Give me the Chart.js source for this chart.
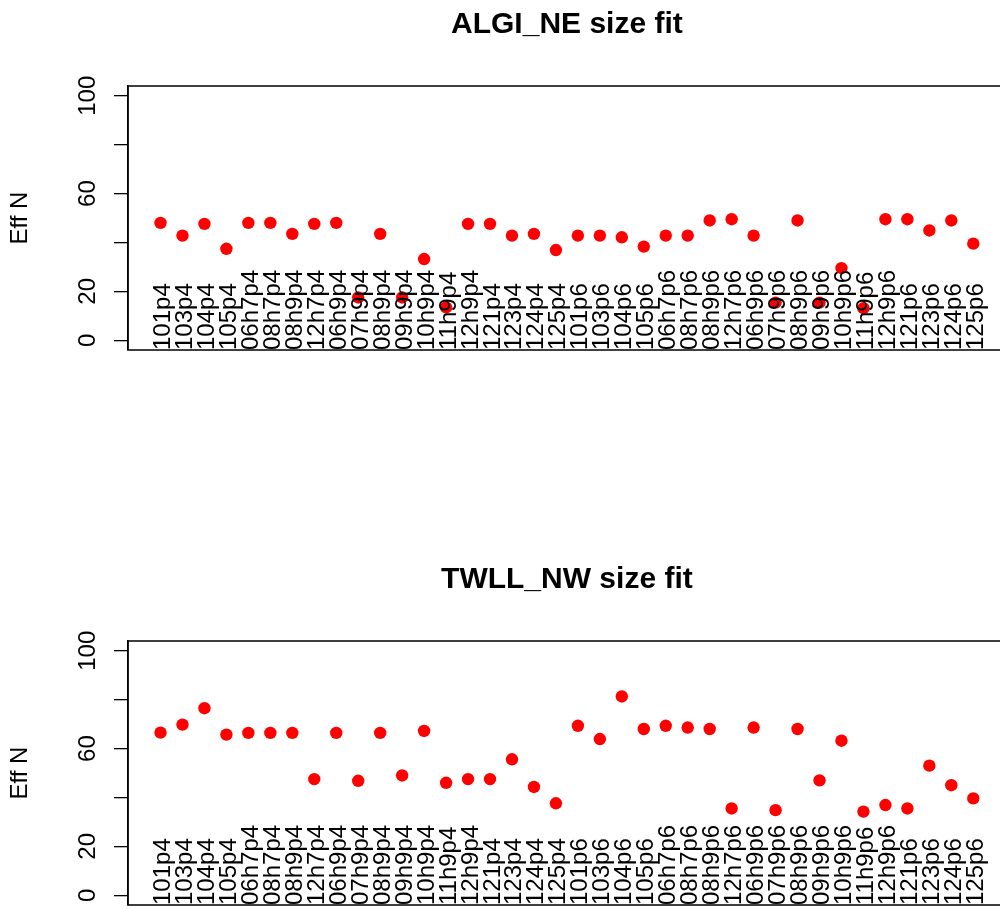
<!DOCTYPE html>
<html lang="en">

<head>
    <meta charset="UTF-8">
    <title>Eff N size fit</title>
    <script src="https://cdn.jsdelivr.net/npm/chart.js"></script>
    <style>
        html, body {
            margin: 0;
            padding: 0;
            width: 1000px;
            height: 909px;
            overflow: hidden;
            background: #fff;
        }

        canvas {
            position: absolute;
            left: 0;
        }

        #painelAlgi { top: 0; }
        #painelTwll { top: 555px; }
    </style>
</head>

<body>
    <canvas id="painelAlgi" width="1012" height="455"></canvas>
    <canvas id="painelTwll" width="1012" height="455"></canvas>

    <script>
        // sample names, same order in both panels
        const amostras = [
            '101p4', '103p4', '104p4', '105p4', '06h7p4', '08h7p4', '08h9p4', '12h7p4', '06h9p4', '07h9p4',
            '08h9p4', '09h9p4', '10h9p4', '11h9p4', '12h9p4', '121p4', '123p4', '124p4', '125p4',
            '101p6', '103p6', '104p6', '105p6', '06h7p6', '08h7p6', '08h9p6', '12h7p6', '06h9p6', '07h9p6',
            '08h9p6', '09h9p6', '10h9p6', '11h9p6', '12h9p6', '121p6', '123p6', '124p6', '125p6'
        ];

        // Eff N values
        const algiNE = [
            48.0, 42.8, 47.6, 37.4, 48.0, 48.0, 43.5, 47.6, 48.0, 17.5,
            43.5, 17.5, 33.2, 13.4, 47.6, 47.6, 42.8, 43.5, 36.9,
            42.8, 42.8, 42.1, 38.3, 42.8, 42.8, 49.0, 49.5, 42.8, 15.4,
            49.0, 15.4, 29.5, 13.1, 49.5, 49.5, 44.9, 49.0, 39.5
        ];

        const twllNW = [
            66.5, 69.8, 76.5, 65.7, 66.4, 66.4, 66.4, 47.5, 66.4, 46.8,
            66.4, 49.0, 67.2, 46.0, 47.5, 47.5, 55.6, 44.3, 37.6,
            69.3, 63.9, 81.3, 68.0, 69.3, 68.6, 68.0, 35.5, 68.6, 34.8,
            68.0, 47.0, 63.2, 34.2, 36.9, 35.5, 53.0, 45.0, 39.6
        ];

        const yTicks = [0, 20, 40, 60, 80, 100];
        const yTickLabels = [0, 20, 60, 100]; // R drops 40 and 80 (overlap)

        const fonte = "'Liberation Sans', Arial, sans-serif";

        // box around the plot region + vertical sample names inside it
        const caixaENomes = {
            id: 'caixaENomes',
            afterDatasetsDraw(chart) {
                const { ctx, chartArea } = chart;
                const x = chart.scales.x;

                ctx.save();
                ctx.beginPath();
                ctx.rect(chartArea.left, chartArea.top, chartArea.right - chartArea.left, chartArea.bottom - chartArea.top);
                ctx.clip();
                ctx.fillStyle = '#000';
                ctx.font = '24px ' + fonte;
                ctx.textAlign = 'left';
                ctx.textBaseline = 'alphabetic';
                amostras.forEach((nome, i) => {
                    ctx.save();
                    ctx.translate(x.getPixelForValue(i + 1), chartArea.bottom);
                    ctx.rotate(-Math.PI / 2);
                    ctx.fillText(nome, 0, 9.5);
                    ctx.restore();
                });
                ctx.restore();

                ctx.save();
                ctx.strokeStyle = '#000';
                ctx.lineWidth = 1.5;
                ctx.strokeRect(chartArea.left, chartArea.top, chartArea.right - chartArea.left, chartArea.bottom - chartArea.top);
                ctx.restore();
            }
        };

        function desenharPainel(id, titulo, valores) {
            const ctx = document.getElementById(id).getContext('2d');
            return new Chart(ctx, {
                type: 'scatter',
                data: {
                    datasets: [{
                        data: valores.map((v, i) => ({ x: i + 1, y: v })),
                        backgroundColor: '#ff0000',
                        borderWidth: 0,
                        pointRadius: 6.2,
                        pointHoverRadius: 6.2
                    }]
                },
                options: {
                    responsive: false,
                    animation: false,
                    events: [],
                    layout: {
                        padding: { left: 0, right: 2, top: 0, bottom: 105 }
                    },
                    plugins: {
                        legend: { display: false },
                        tooltip: { enabled: false },
                        title: {
                            display: true,
                            text: titulo,
                            fullSize: false,
                            color: '#000',
                            font: { family: fonte, size: 30, weight: 'bold', lineHeight: 1.2 },
                            padding: { top: 7, bottom: 43 }
                        }
                    },
                    scales: {
                        x: {
                            type: 'linear',
                            display: false,
                            min: -0.48,
                            max: 39.48
                        },
                        y: {
                            min: -4,
                            max: 104,
                            afterFit(scale) {
                                scale.width = 128;
                            },
                            afterBuildTicks(scale) {
                                scale.ticks = yTicks.map(v => ({ value: v }));
                            },
                            border: { display: true, color: '#000', width: 1.5 },
                            grid: {
                                drawOnChartArea: false,
                                drawTicks: true,
                                tickLength: 14,
                                color: '#000',
                                lineWidth: 1.3
                            },
                            ticks: {
                                minRotation: 90,
                                maxRotation: 90,
                                crossAlign: 'center',
                                padding: 5.8,
                                color: '#000',
                                font: { family: fonte, size: 24 },
                                callback: v => yTickLabels.includes(v) ? String(v) : ''
                            },
                            title: {
                                display: true,
                                text: 'Eff N',
                                color: '#000',
                                font: { family: fonte, size: 24, lineHeight: 1.2 },
                                padding: { top: 6, bottom: 0 }
                            }
                        }
                    }
                },
                plugins: [caixaENomes]
            });
        }

        desenharPainel('painelAlgi', 'ALGI_NE size fit', algiNE);
        desenharPainel('painelTwll', 'TWLL_NW size fit', twllNW);
    </script>
</body>

</html>
